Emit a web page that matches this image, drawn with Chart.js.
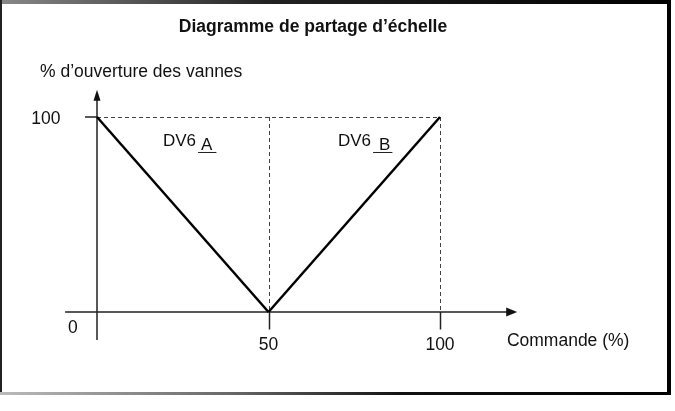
<!DOCTYPE html>
<html>
<head>
<meta charset="utf-8">
<script src="https://cdn.jsdelivr.net/npm/chart.js@4"></script>
<style>
html,body{margin:0;padding:0;background:#fff;}
#wrap{position:relative;width:675px;height:411px;}
canvas{display:block;}
</style>
</head>
<body>
<div id="wrap"><canvas id="c" width="675" height="411"></canvas></div>
<script>
// Data
const commande = [0, 50, 100];
const dv6A = [100, 0, null];
const dv6B = [null, 0, 100];
const xTickLabels = ['50', '100'];
const xTickValues = [50, 100];
const yTickLabels = ['100'];
const yTickValues = [100];
const seriesNames = ['A', 'B'];
const chartTitle = 'Diagramme de partage d\u2019\u00e9chelle';
const yAxisTitle = '% d\u2019ouverture des vannes';
const xAxisTitle = 'Commande (%)';

const pts = (arr) => commande.map((x, i) => ({x: x, y: arr[i]})).filter(p => p.y !== null);

const FONT = '"Liberation Sans", Arial, sans-serif';

const overlay = {
  id: 'overlay',
  beforeDatasetsDraw(chart) {
    const ctx = chart.ctx;
    const xs = chart.scales.x, ys = chart.scales.y;
    const X = v => xs.getPixelForValue(v), Y = v => ys.getPixelForValue(v);
    ctx.save();
    // frame
    let g = ctx.createLinearGradient(0, 0, 671, 0);
    g.addColorStop(0, '#888'); g.addColorStop(0.4, '#222'); g.addColorStop(1, '#000');
    ctx.fillStyle = g;
    ctx.fillRect(0, 0, 671, 4);
    ctx.fillStyle = '#000';
    ctx.fillRect(667, 0, 4, 395);
    ctx.fillStyle = '#222';
    ctx.fillRect(0, 0, 2, 393);
    g = ctx.createLinearGradient(0, 0, 671, 0);
    g.addColorStop(0, '#bbb'); g.addColorStop(0.35, '#666'); g.addColorStop(0.6, '#111'); g.addColorStop(1, '#000');
    ctx.fillStyle = g;
    ctx.fillRect(0, 392, 671, 3);

    // dashed guides
    ctx.strokeStyle = '#444';
    ctx.lineWidth = 1;
    ctx.setLineDash([4, 3]);
    ctx.beginPath();
    ctx.moveTo(X(0), Y(100) + 0.5); ctx.lineTo(X(100), Y(100) + 0.5);
    xTickValues.forEach(v => { ctx.moveTo(Math.round(X(v)) + 0.5, Y(100)); ctx.lineTo(Math.round(X(v)) + 0.5, Y(0)); });
    ctx.stroke();
    ctx.setLineDash([]);

    // axes
    ctx.strokeStyle = '#222';
    ctx.lineWidth = 1.5;
    ctx.beginPath();
    ctx.moveTo(X(-9.3), Y(0)); ctx.lineTo(X(120), Y(0));
    ctx.moveTo(X(0), Y(-14.4)); ctx.lineTo(X(0), Y(111));
    // ticks
    xTickValues.forEach(v => { ctx.moveTo(Math.round(X(v)) + 0.5, Y(0)); ctx.lineTo(Math.round(X(v)) + 0.5, Y(-9)); });
    yTickValues.forEach(v => { ctx.moveTo(X(-3.5), Y(v)); ctx.lineTo(X(0), Y(v)); });
    ctx.stroke();
    // arrowheads
    ctx.fillStyle = '#111';
    ctx.beginPath();
    const ax = X(122.5), ay = Y(0);
    ctx.moveTo(ax, ay); ctx.lineTo(ax - 11, ay - 4.5); ctx.lineTo(ax - 11, ay + 4.5); ctx.closePath();
    ctx.fill();
    ctx.beginPath();
    const bx = X(0), by = Y(114);
    ctx.moveTo(bx, by); ctx.lineTo(bx - 3.5, by + 11); ctx.lineTo(bx + 3.5, by + 11); ctx.closePath();
    ctx.fill();

    // texts
    ctx.fillStyle = '#111';
    ctx.textBaseline = 'middle';
    ctx.textAlign = 'center';
    ctx.font = 'bold 17.5px ' + FONT;
    ctx.fillText(chartTitle, 313, 27);
    ctx.font = '17.5px ' + FONT;
    ctx.textAlign = 'left';
    ctx.fillText(yAxisTitle, 40, 72);
    ctx.textAlign = 'center';
    yTickValues.forEach((v, i) => ctx.fillText(yTickLabels[i], X(-14.9), Y(v) + 2));
    ctx.fillText('0', X(-7.0), Y(-8.5));
    xTickValues.forEach((v, i) => ctx.fillText(xTickLabels[i], X(v), Y(-16.9)));
    ctx.textAlign = 'left';
    ctx.fillText(xAxisTitle, X(119.5), Y(-15));

    // series labels
    const lab = [[19.24, 87.7, 5, 4], [70.26, 87.7, 8, 2]];
    seriesNames.forEach((n, i) => {
      const lx = X(lab[i][0]), ly = Y(lab[i][1]);
      ctx.textAlign = 'left';
      ctx.fillStyle = '#111';
      ctx.font = '17px ' + FONT;
      ctx.fillText('DV6', lx, ly);
      const w = ctx.measureText('DV6').width;
      const off = lab[i][2];
      ctx.fillText(n, lx + w + off, ly + 4);
      const nw = ctx.measureText(n).width;
      ctx.strokeStyle = '#222';
      ctx.lineWidth = 1;
      ctx.beginPath();
      ctx.moveTo(lx + w + 2, ly + 11.5); ctx.lineTo(lx + w + off + nw + lab[i][3], ly + 11.5);
      ctx.stroke();
    });
    ctx.restore();
  }
};

new Chart(document.getElementById('c'), {
  type: 'scatter',
  data: {
    datasets: [
      { label: 'DV6_A', data: pts(dv6A), showLine: true, borderColor: '#000', borderWidth: 2.5, pointRadius: 0, fill: false },
      { label: 'DV6_B', data: pts(dv6B), showLine: true, borderColor: '#000', borderWidth: 2.5, pointRadius: 0, fill: false }
    ]
  },
  options: {
    responsive: false,
    animation: false,
    layout: { padding: { left: 62.7, right: 149.25, top: 87.75, bottom: 69.75 } },
    plugins: { legend: { display: false }, tooltip: { enabled: false }, title: { display: false } },
    scales: {
      x: { type: 'linear', min: -10, max: 125, display: false },
      y: { type: 'linear', min: -15, max: 115, display: false }
    }
  },
  plugins: [overlay]
});
</script>
</body>
</html>
